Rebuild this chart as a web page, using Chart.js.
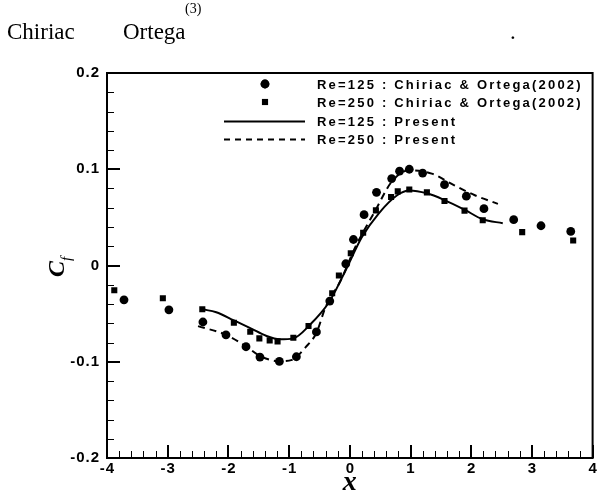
<!DOCTYPE html>
<html>
<head>
<meta charset="utf-8">
<script src="https://cdn.jsdelivr.net/npm/chart.js@4.4.0/dist/chart.umd.min.js"></script>
<style>
  body { margin: 0; background: #fff; }
  #wrap { position: relative; width: 597px; height: 497px; }
  #chart { position: absolute; left: 0; top: 0; }
  .cap { position: absolute; font-family: "Liberation Serif", serif; color: #000; line-height: 23px; white-space: nowrap; }
</style>
</head>
<body>
<div id="wrap">
  <canvas id="chart" width="597" height="497"></canvas>
  <span class="cap" style="left:7px; top:20px; font-size:23px;">Chiriac</span>
  <span class="cap" style="left:123px; top:20px; font-size:23px;">Ortega</span>
  <span class="cap" style="left:185px; top:2px; font-size:14px; line-height:14px;">(3)</span>
  <span class="cap" style="left:510px; top:20px; font-size:23px;">.</span>
</div>
<script>
// legend labels
const seriesLabels = [
    "Re=125 : Chiriac & Ortega(2002)",
    "Re=250 : Chiriac & Ortega(2002)",
    "Re=125 : Present",
    "Re=250 : Present"
];

// Chiriac & Ortega, Re=125 (circles)
const ref125X = [-3.72, -2.98, -2.42, -2.04, -1.71, -1.48, -1.16, -0.88, -0.55, -0.33, -0.066, 0.06, 0.235, 0.44, 0.69, 0.82, 0.98, 1.20, 1.56, 1.92, 2.21, 2.70, 3.15, 3.64];
const ref125Y = [-0.0357, -0.046, -0.0587, -0.072, -0.0844, -0.0951, -0.0997, -0.0948, -0.069, -0.037, 0.0018, 0.027, 0.0528, 0.076, 0.0903, 0.098, 0.100, 0.096, 0.084, 0.072, 0.059, 0.0476, 0.0413, 0.0354];

// Chiriac & Ortega, Re=250 (squares)
const ref250X = [-3.88, -3.08, -2.43, -1.91, -1.64, -1.49, -1.32, -1.19, -0.93, -0.68, -0.29, -0.18, 0.016, 0.22, 0.43, 0.68, 0.79, 0.98, 1.27, 1.56, 1.89, 2.19, 2.84, 3.68];
const ref250Y = [-0.0257, -0.034, -0.0455, -0.0594, -0.0688, -0.0757, -0.0778, -0.0788, -0.075, -0.0628, -0.0288, -0.0104, 0.0128, 0.034, 0.0573, 0.0712, 0.077, 0.079, 0.076, 0.067, 0.057, 0.047, 0.0347, 0.026];

// present, Re=125 (solid)
const pres125X = [-2.43, -2.2, -1.91, -1.64, -1.38, -1.16, -0.93, -0.67, -0.34, -0.07, 0.2, 0.475, 0.78, 0.98, 1.27, 1.56, 1.89, 2.19, 2.52];
const pres125Y = [-0.0455, -0.0485, -0.057, -0.065, -0.073, -0.0767, -0.0757, -0.0625, -0.038, -0.0052, 0.0295, 0.054, 0.073, 0.078, 0.075, 0.068, 0.058, 0.048, 0.044];

// present, Re=250 (dashed)
const pres250X = [-2.5, -2.04, -1.71, -1.48, -1.16, -0.95, -0.73, -0.55, -0.4, -0.15, 0.09, 0.42, 0.69, 0.98, 1.35, 1.73, 2.06, 2.44];
const pres250Y = [-0.063, -0.072, -0.084, -0.094, -0.0995, -0.098, -0.085, -0.07, -0.0434, -0.0156, 0.019, 0.057, 0.087, 0.099, 0.0955, 0.083, 0.073, 0.064];

const xTicks = [-4, -3, -2, -1, 0, 1, 2, 3, 4];
const yTicks = [-0.2, -0.1, 0, 0.1, 0.2];
const yTickLabels = ["-0.2", "-0.1", "0", "0.1", "0.2"];

function toPoints(xs, ys) {
    return xs.map((x, i) => ({ x: x, y: ys[i] }));
}

// text with extra spacing between letters
function spacedText(ctx, str, x, y, gap, align) {
    let total = 0;
    for (const ch of str) total += ctx.measureText(ch).width;
    total += gap * (str.length - 1);
    let cx = x;
    if (align === "right") cx = x - total;
    if (align === "center") cx = x - total / 2;
    ctx.textAlign = "left";
    for (const ch of str) {
        ctx.fillText(ch, cx, y);
        cx += ctx.measureText(ch).width + gap;
    }
}

const axesPlugin = {
    id: "tecplotAxes",
    afterDraw(chart) {
        const ctx = chart.ctx;
        const area = chart.chartArea;
        const xs = chart.scales.x;
        const ys = chart.scales.y;
        ctx.save();
        ctx.strokeStyle = "#000";
        ctx.fillStyle = "#000";

        // frame
        ctx.lineWidth = 2;
        ctx.strokeRect(area.left, area.top, area.right - area.left, area.bottom - area.top);

        // minor ticks
        ctx.lineWidth = 1;
        ctx.beginPath();
        for (let i = -40; i <= 40; i += 2) {
            if (i % 10 === 0) continue;
            const px = Math.round(xs.getPixelForValue(i / 10)) + 0.5;
            ctx.moveTo(px, area.bottom);
            ctx.lineTo(px, area.bottom - 7);
        }
        for (let i = -20; i <= 20; i += 2) {
            if (i % 10 === 0) continue;
            const py = Math.round(ys.getPixelForValue(i / 100)) + 0.5;
            ctx.moveTo(area.left, py);
            ctx.lineTo(area.left + 7, py);
        }
        ctx.stroke();

        // major ticks
        ctx.lineWidth = 2;
        ctx.beginPath();
        xTicks.forEach(v => {
            const px = Math.round(xs.getPixelForValue(v));
            ctx.moveTo(px, area.bottom);
            ctx.lineTo(px, area.bottom - 13);
        });
        yTicks.forEach(v => {
            const py = Math.round(ys.getPixelForValue(v));
            ctx.moveTo(area.left, py);
            ctx.lineTo(area.left + 13, py);
        });
        ctx.stroke();

        // tick labels
        ctx.font = "bold 15px 'Liberation Sans', Arial, sans-serif";
        ctx.textBaseline = "middle";
        yTicks.forEach((v, i) => {
            spacedText(ctx, yTickLabels[i], area.left - 8, ys.getPixelForValue(v), 1.0, "right");
        });
        xTicks.forEach(v => {
            spacedText(ctx, String(v), xs.getPixelForValue(v), area.bottom + 11, 1.0, "center");
        });

        // axis titles
        ctx.textBaseline = "alphabetic";
        ctx.font = "bold italic 28px 'Liberation Serif', serif";
        ctx.textAlign = "center";
        ctx.fillText("x", xs.getPixelForValue(0), 490);

        ctx.save();
        ctx.translate(57, 267);
        ctx.rotate(-Math.PI / 2);
        ctx.textAlign = "left";
        ctx.font = "bold italic 24px 'Liberation Serif', serif";
        ctx.fillText("C", -10, 7);
        ctx.font = "italic 15px 'Liberation Serif', serif";
        ctx.fillText("f", 6, 14);
        ctx.restore();

        // legend
        const rows = [84, 102, 121, 139];
        ctx.font = "bold 13px 'Liberation Sans', Arial, sans-serif";
        ctx.textBaseline = "middle";
        rows.forEach((ry, i) => {
            const ds = chart.data.datasets[i];
            if (ds.showLine) {
                ctx.lineWidth = ds.borderWidth;
                ctx.setLineDash([6, 5]);
                if (!ds.borderDash) ctx.setLineDash([]);
                ctx.beginPath();
                ctx.moveTo(224, ry + 0.5);
                ctx.lineTo(305, ry + 0.5);
                ctx.stroke();
                ctx.setLineDash([]);
            } else {
                Chart.helpers.drawPoint(ctx, {
                    pointStyle: ds.pointStyle,
                    radius: ds.pointRadius,
                    borderWidth: 0
                }, 265, ry);
                ctx.fill();
            }
            spacedText(ctx, ds.label, 317, ry + 1, 2.2, "left");
        });

        ctx.restore();
    }
};

new Chart(document.getElementById("chart"), {
    type: "scatter",
    data: {
        datasets: [
            {
                label: seriesLabels[0],
                data: toPoints(ref125X, ref125Y),
                pointStyle: "circle",
                pointRadius: 4.4,
                backgroundColor: "#000",
                borderColor: "#000",
                borderWidth: 0,
                showLine: false
            },
            {
                label: seriesLabels[1],
                data: toPoints(ref250X, ref250Y),
                pointStyle: "rect",
                pointRadius: 4.3,
                backgroundColor: "#000",
                borderColor: "#000",
                borderWidth: 0,
                showLine: false
            },
            {
                label: seriesLabels[2],
                data: toPoints(pres125X, pres125Y),
                showLine: true,
                pointRadius: 0,
                borderColor: "#000",
                borderWidth: 2,
                cubicInterpolationMode: "monotone",
                fill: false
            },
            {
                label: seriesLabels[3],
                data: toPoints(pres250X, pres250Y),
                showLine: true,
                pointRadius: 0,
                borderColor: "#000",
                borderWidth: 2,
                borderDash: [7, 5],
                cubicInterpolationMode: "monotone",
                fill: false
            }
        ]
    },
    options: {
        responsive: false,
        animation: false,
        devicePixelRatio: 1,
        layout: {
            padding: { left: 107, top: 73, right: 2, bottom: 39 }
        },
        plugins: {
            legend: { display: false },
            tooltip: { enabled: false }
        },
        scales: {
            x: { type: "linear", min: -4, max: 4, display: false },
            y: { type: "linear", min: -0.2, max: 0.2, display: false }
        }
    },
    plugins: [axesPlugin]
});
</script>
</body>
</html>
